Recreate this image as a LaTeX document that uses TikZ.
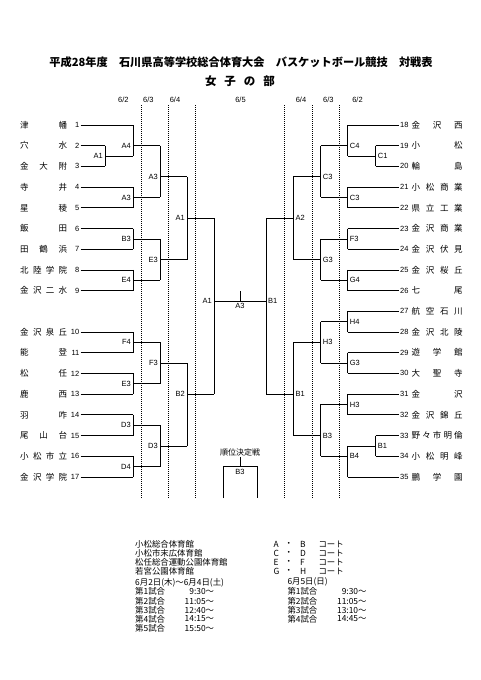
\documentclass[tikz,border=0pt]{standalone}
\usepackage{fontspec}
\setmainfont{Liberation Sans}
\newfontfamily\jp{Noto Sans CJK JP}
\usetikzlibrary{positioning}

\begin{document}
\begin{tikzpicture}[x=1pt,y=-1pt,
  declare function={ry(\s)=125+20.7*\s;},
  bline/.style={line width=0.7pt},
  dayline/.style={line width=0.5pt,dash pattern=on 1pt off 1pt},
  game/.style={font=\fontsize{7.5}{8}\selectfont,inner sep=2pt},
  tnum/.style={font=\fontsize{7.5}{8}\selectfont,inner sep=1pt},
  tname/.style={font={\jp\fontsize{8.5}{9}\selectfont},inner sep=0pt},
  daylab/.style={font=\fontsize{7.5}{8}\selectfont,inner sep=0pt},
  note/.style={font={\jp\fontsize{8.4}{9}\selectfont},inner sep=0pt,anchor=west}
]
\useasboundingbox (0,0) rectangle (481,680);

% title
\node[font={\jp\bfseries\fontsize{11.2}{12}\selectfont}] (title) at (241,62)
  {平成28年度　石川県高等学校総合体育大会　バスケットボール競技　対戦表};
\node[font={\jp\bfseries\fontsize{11.5}{12}\selectfont},inner sep=0pt] (part) at (240,81)
  {\makebox[70pt][s]{女 子 の 部}};

% days
\node[daylab] (d1) at (123.3,100) {6/2};
\node[daylab] (d2) at (148.3,100) {6/3};
\node[daylab] (d3) at (175,100) {6/4};
\node[daylab] (d4) at (240.5,100) {6/5};
\node[daylab] (d5) at (301,100) {6/4};
\node[daylab] (d6) at (328.3,100) {6/3};
\node[daylab] (d7) at (357.5,100) {6/2};
\foreach \x in {141,168,195,284.3,312.3,339.3}
  \draw[dayline] (\x,105) -- (\x,498);

% left teams
\foreach \k/\s/\xe/\nm in {1/0/133/津 幡, 2/1/105/穴 水, 3/2/105/金 大 附,
  4/3/133/寺 井, 5/4/133/星 稜, 6/5/133/飯 田, 7/6/133/田 鶴 浜,
  8/7/133/北 陸 学 院, 9/8/133/金 沢 二 水, 10/10/133/金 沢 泉 丘,
  11/11/133/能 登, 12/12/133/松 任, 13/13/133/鹿 西, 14/14/133/羽 咋,
  15/15/133/尾 山 台, 16/16/133/小 松 市 立, 17/17/133/金 沢 学 院}{
  \node[tnum,anchor=east] (n\k) at (80.5,{ry(\s)}) {\k};
  \node[tname,anchor=west] (t\k) at (20,{ry(\s)}) {\makebox[47pt][s]{\nm}};
  \draw[bline] (n\k.east) -- (\xe,{ry(\s)});
}

% right teams
\foreach \k/\s/\xe/\nm in {18/0/347.7/金 沢 西, 19/1/375.7/小 松, 20/2/375.7/輪 島,
  21/3/347.7/小 松 商 業, 22/4/347.7/県 立 工 業, 23/5/347.7/金 沢 商 業,
  24/6/347.7/金 沢 伏 見, 25/7/347.7/金 沢 桜 丘, 26/8/347.7/七 尾,
  27/9/347.7/航 空 石 川, 28/10/347.7/金 沢 北 陵, 29/11/347.7/遊 学 館,
  30/12/347.7/大 聖 寺, 31/13/347.7/金 沢, 32/14/347.7/金 沢 錦 丘,
  33/15/375.7/野 々 市 明 倫, 34/16/375.7/小 松 明 峰, 35/17/347.7/鵬 学 園}{
  \node[tnum,anchor=west] (n\k) at (399,{ry(\s)}) {\k};
  \node[tname,anchor=west] (t\k) at (411.5,{ry(\s)}) {\makebox[51pt][s]{\nm}};
  \draw[bline] (\xe,{ry(\s)}) -- (n\k.west);
}

% left games
\foreach \i/\lab/\x/\ya/\yb/\yo/\xo in {1/A1/105/1/2/1.5/133, 2/A4/133/0/1.5/1/160,
  3/A3/133/3/4/3.5/160, 4/A3/160/1/3.5/2.5/187, 5/B3/133/5/6/5.5/160,
  6/E4/133/7/8/7.5/160, 7/E3/160/5.5/7.5/6.5/187, 8/A1/187/2.5/6.5/4.5/214,
  9/F4/133/10/11/10.5/160, 10/E3/133/12/13/12.5/160, 11/F3/160/10.5/12.5/11.5/187,
  12/D3/133/14/15/14.5/160, 13/D4/133/16/17/16.5/160, 14/D3/160/14.5/16.5/15.5/187,
  15/B2/187/11.5/15.5/13/214}{
  \coordinate (la\i) at (\x,{ry(\ya)});
  \coordinate (lb\i) at (\x,{ry(\yb)});
  \coordinate (lo\i) at (\x,{ry(\yo)});
  \draw[bline] (la\i) -- (lb\i);
  \draw[bline] (lo\i) -- (\xo,{ry(\yo)});
  \node[game,anchor=east] (lg\i) at (lo\i) {\lab};
}

% right games
\foreach \i/\lab/\x/\ya/\yb/\yo/\xo in {1/C1/375.7/1/2/1.5/347.7, 2/C4/347.7/0/1.5/1/320.7,
  3/C3/347.7/3/4/3.5/320.7, 4/C3/320.7/1/3.5/2.5/293.3, 5/F3/347.7/5/6/5.5/320.7,
  6/G4/347.7/7/8/7.5/320.7, 7/G3/320.7/5.5/7.5/6.5/293.3, 8/A2/293.3/2.5/6.5/4.5/266,
  9/H4/347.7/9/10/9.5/320.7, 10/G3/347.7/11/12/11.5/320.7, 11/H3/320.7/9.5/11.5/10.5/293.3,
  12/H3/347.7/13/14/13.5/320.7, 13/B1/375.7/15/16/15.5/347.7, 14/B4/347.7/15.5/17/16/320.7,
  15/B3/320.7/13.5/16/15/293.3, 16/B1/293.3/10.5/15/13/266}{
  \coordinate (ra\i) at (\x,{ry(\ya)});
  \coordinate (rb\i) at (\x,{ry(\yb)});
  \coordinate (ro\i) at (\x,{ry(\yo)});
  \draw[bline] (ra\i) -- (rb\i);
  \draw[bline] (ro\i) -- (\xo,{ry(\yo)});
  \node[game,anchor=west] (rg\i) at (ro\i) {\lab};
}

% semifinals and final
\coordinate (sl1) at (214,{ry(4.5)});
\coordinate (sl2) at (214,{ry(13)});
\coordinate (sr1) at (266,{ry(4.5)});
\coordinate (sr2) at (266,{ry(13)});
\coordinate (fl) at (214,{ry(8.5)});
\coordinate (fr) at (266,{ry(8.5)});
\coordinate (fm) at (240,{ry(8.5)});
\draw[bline] (sl1) -- (sl2);
\draw[bline] (sr1) -- (sr2);
\draw[bline] (fl) -- (fr);
\draw[bline] (fm) -- ++(0,-10);
\node[game,anchor=east] (semil) at (fl) {A1};
\node[game,anchor=west] (semir) at (fr) {B1};
\node[game,below=0pt of fm] (fin) {A3};

% third place
\coordinate (cm) at (240,466.7);
\coordinate (ct) at (240,457.2);
\coordinate (cl) at (223.3,498);
\coordinate (cr) at (257.3,498);
\draw[bline] (ct) -- (cm);
\draw[bline] (cl) |- (cm) -| (cr);
\node[font={\jp\fontsize{8}{9}\selectfont},inner sep=0.5pt,above=0pt of ct] (third) {順位決定戦};
\node[game,below=0pt of cm] (thirdg) {B3};

% notes
\foreach \y/\t [count=\i] in {544/小松総合体育館, 553.3/小松市末広体育館,
  562.7/松任総合運動公園体育館, 571.7/若宮公園体育館, 582.3/6月2日(木)～6月4日(土)}
  \node[note] (h\i) at (135,\y) {\t};
\foreach \y/\g/\t in {591.7/1/9:30～, 601/2/11:05～, 610/3/12:40～, 619/4/14:15～, 628.7/5/15:50～}{
  \node[note] (gl\g) at (135,\y) {第\g 試合};
  \node[note,anchor=east] (tl\g) at (214.3,\y) {\t};
}
\foreach \y/\a/\b [count=\i] in {544/A/B, 553.3/C/D, 562.7/E/F, 571.7/G/H}{
  \node[note] (ca\i) at (273.3,\y) {\a};
  \node[note] (cd\i) at (284.5,\y) {・};
  \node[note] (cb\i) at (300,\y) {\b};
  \node[note] (ck\i) at (318.3,\y) {コート};
}
\node[note] (h6) at (287.3,582.3) {6月5日(日)};
\foreach \y/\g/\t in {591.7/1/9:30～, 601/2/11:05～, 610/3/13:10～, 619/4/14:45～}{
  \node[note] (gr\g) at (287.3,\y) {第\g 試合};
  \node[note,anchor=east] (tr\g) at (366.7,\y) {\t};
}
\end{tikzpicture}
\end{document}
